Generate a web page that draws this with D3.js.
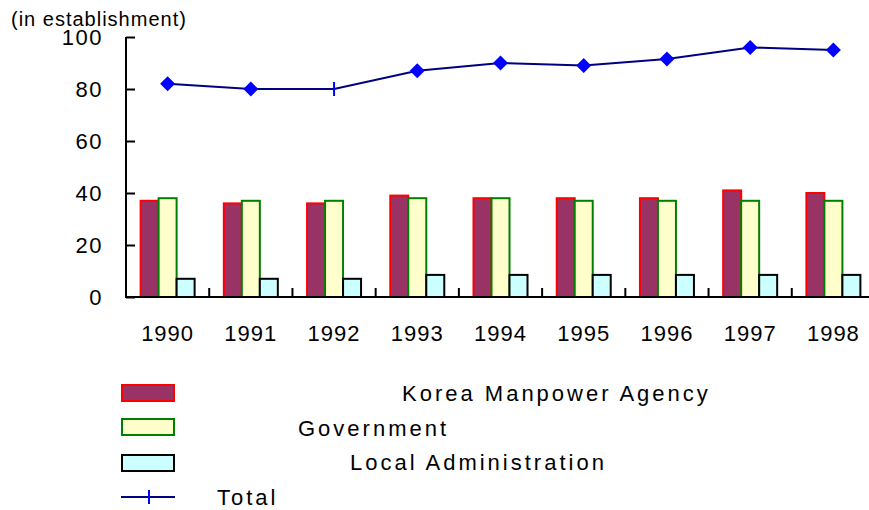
<!DOCTYPE html>
<html>
<head>
<meta charset="utf-8">
<script src="https://cdn.jsdelivr.net/npm/d3@7"></script>
<style>
  body { margin: 0; background: #fff; }
  text { font-family: "Liberation Sans", Arial, sans-serif; fill: #000; }
</style>
</head>
<body>
<div id="chart"></div>
<script>
// data
var years = ["1990", "1991", "1992", "1993", "1994", "1995", "1996", "1997", "1998"];
var agency = [37, 36, 36, 39, 38, 38, 38, 41, 40];
var government = [38, 37, 37, 38, 38, 37, 37, 37, 37];
var localAdmin = [7, 7, 7, 8.5, 8.5, 8.5, 8.5, 8.5, 8.5];
var total = [82, 80, 80, 87, 90, 89, 91.5, 96, 95];
var yTicks = [0, 20, 40, 60, 80, 100];
var seriesNames = ["Korea Manpower Agency", "Government", "Local Administration", "Total"];

var width = 869, height = 510;

var svg = d3.select("#chart")
  .append("svg")
    .attr("width", width)
    .attr("height", height);

// scales
var x = d3.scaleBand().domain(years).range([126, 875]).padding(0);
var barW = 18;
var x1 = d3.scaleBand().domain([0, 1, 2]).range([0, barW * 3]).padding(0);
var groupOff = (x.bandwidth() - barW * 3) / 2;
var y = d3.scaleLinear().domain([0, 100]).range([297, 37]);

// bar series styles
var bars = [
  {name: seriesNames[0], values: agency, fill: "#993366", stroke: "#ff0000"},
  {name: seriesNames[1], values: government, fill: "#ffffcc", stroke: "#008000"},
  {name: seriesNames[2], values: localAdmin, fill: "#ccffff", stroke: "#000000"}
];

bars.forEach(function(s, si) {
  svg.append("g").selectAll("rect")
    .data(s.values)
    .enter()
    .append("rect")
      .attr("x", function(d, i) { return x(years[i]) + groupOff + x1(si); })
      .attr("y", function(d) { return y(d); })
      .attr("width", x1.bandwidth())
      .attr("height", function(d) { return y(0) - y(d); })
      .attr("fill", s.fill)
      .attr("stroke", s.stroke)
      .attr("stroke-width", 2);
});

// Y axis (ticks point inward)
var yAxis = d3.axisRight(y).tickValues(yTicks).tickSize(9).tickFormat("");
var gy = svg.append("g")
  .attr("transform", "translate(" + 126 + ",0)")
  .call(yAxis);
gy.select(".domain").attr("stroke-width", 2).attr("d", "M0," + y(100) + "V" + y(0));
gy.selectAll(".tick line").attr("stroke-width", 2);

svg.append("g").selectAll("text")
  .data(yTicks)
  .enter()
  .append("text")
    .attr("x", 103)
    .attr("y", function(d) { return y(d); })
    .attr("dy", "0.36em")
    .attr("text-anchor", "end")
    .style("font-size", "22px")
    .style("letter-spacing", "1.5px")
    .text(function(d) { return d; });

// X axis
svg.append("line")
  .attr("x1", 125).attr("x2", width)
  .attr("y1", y(0)).attr("y2", y(0))
  .attr("stroke", "#000")
  .attr("stroke-width", 2);

svg.append("g").selectAll("line")
  .data(years.slice(1))
  .enter()
  .append("line")
    .attr("x1", function(d) { return x(d); })
    .attr("x2", function(d) { return x(d); })
    .attr("y1", y(0))
    .attr("y2", y(0) - 9)
    .attr("stroke", "#000")
    .attr("stroke-width", 2);

svg.append("g").selectAll("text")
  .data(years)
  .enter()
  .append("text")
    .attr("x", function(d) { return x(d) + x.bandwidth() / 2; })
    .attr("y", 341)
    .attr("text-anchor", "middle")
    .style("font-size", "22px")
    .style("letter-spacing", "1px")
    .text(function(d) { return d; });

// axis title
svg.append("text")
  .attr("x", 11)
  .attr("y", 26)
  .style("font-size", "20px")
  .style("letter-spacing", "1px")
  .text("(in establishment)");

// Total line
var cx = function(i) { return x(years[i]) + x.bandwidth() / 2; };
svg.append("path")
  .datum(total)
  .attr("fill", "none")
  .attr("stroke", "#000080")
  .attr("stroke-width", 2)
  .attr("d", d3.line()
    .x(function(d, i) { return cx(i); })
    .y(function(d) { return y(d); }));

var plainMarkerYear = "1992";
total.forEach(function(d, i) {
  if (years[i] === plainMarkerYear) {
    svg.append("line")
      .attr("x1", cx(i)).attr("x2", cx(i))
      .attr("y1", y(d) - 7).attr("y2", y(d) + 7)
      .attr("stroke", "#0000ff")
      .attr("stroke-width", 2);
  } else {
    svg.append("path")
      .attr("transform", "translate(" + cx(i) + "," + y(d) + ")")
      .attr("d", "M0,-7.5L7.5,0L0,7.5L-7.5,0Z")
      .attr("fill", "#0000ff");
  }
});

// legend
var legendRows = [
  {y: 385, textX: 402, textY: 401},
  {y: 419, textX: 298, textY: 436},
  {y: 455, textX: 350, textY: 470}
];
bars.forEach(function(s, i) {
  var r = legendRows[i];
  svg.append("rect")
    .attr("x", 122).attr("y", r.y)
    .attr("width", 52).attr("height", 16)
    .attr("fill", s.fill)
    .attr("stroke", s.stroke)
    .attr("stroke-width", 2);
  svg.append("text")
    .attr("x", r.textX).attr("y", r.textY)
    .style("font-size", "22px")
    .style("letter-spacing", "3px")
    .text(s.name);
});

svg.append("line")
  .attr("x1", 121).attr("x2", 175)
  .attr("y1", 497).attr("y2", 497)
  .attr("stroke", "#000080")
  .attr("stroke-width", 2);
svg.append("line")
  .attr("x1", 149).attr("x2", 149)
  .attr("y1", 490).attr("y2", 504)
  .attr("stroke", "#0000ff")
  .attr("stroke-width", 2);
svg.append("text")
  .attr("x", 217).attr("y", 505)
  .style("font-size", "22px")
  .style("letter-spacing", "3px")
  .text(seriesNames[3]);
</script>
</body>
</html>
